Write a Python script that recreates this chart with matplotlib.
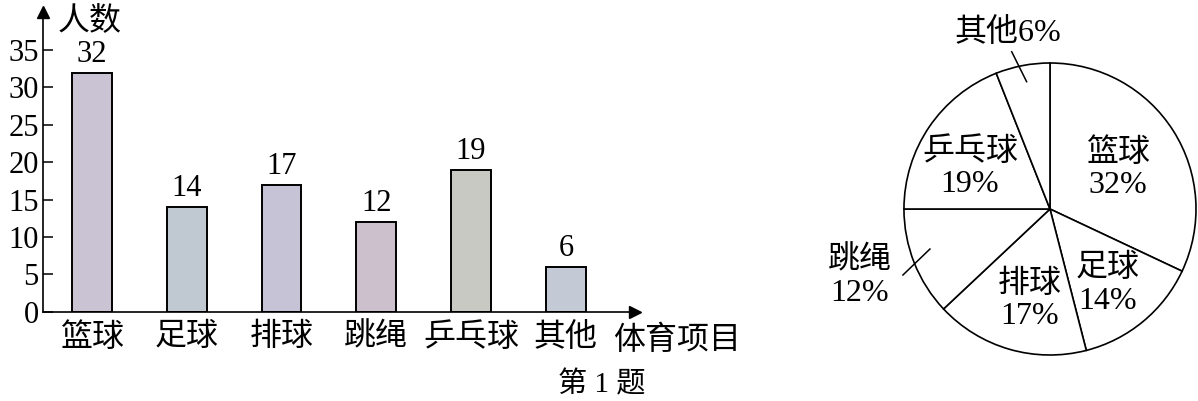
import matplotlib.pyplot as plt

plt.rcParams['font.family'] = ['Liberation Serif', 'Noto Sans CJK SC']

# data
sports = ['篮球', '足球', '排球', '跳绳', '乒乓球', '其他']
counts = [32, 14, 17, 12, 19, 6]
percents = [32, 14, 17, 12, 19, 6]
yticks = [0, 5, 10, 15, 20, 25, 30, 35]
bar_colors = ['#c9c3d3', '#c0c8d2', '#c6c3d6', '#ccc0cd', '#c9c9c4', '#c3cad6']

fig = plt.figure(figsize=(11.98, 4.01), dpi=100)

# ---- bar chart ----
ax = fig.add_axes([43 / 1198, 1 - 311.7 / 401, (635 - 43) / 1198, (311.7 - 12) / 401])
x = range(len(sports))
ax.bar(x, counts, width=0.42, color=bar_colors, edgecolor='black', linewidth=1.4)
for i, v in enumerate(counts):
    ax.text(i, v + 0.5, str(v), ha='center', va='bottom', fontsize=22)

ax.set_xlim(-0.517, 5.73)
ax.set_ylim(0, 40.1)
ax.set_yticks(yticks)
ax.set_xticks(list(x))
ax.set_xticklabels(sports, fontsize=23)
ax.tick_params(axis='y', direction='in', length=7, width=1.1, labelsize=22, pad=3)
ax.tick_params(axis='x', length=0, pad=8)
for s in ['top', 'right']:
    ax.spines[s].set_visible(False)
ax.spines['left'].set_linewidth(1.2)
ax.spines['bottom'].set_linewidth(1.2)
ax.plot(1, 0, '>k', markersize=8, transform=ax.transAxes, clip_on=False)
ax.plot(0, 1, '^k', markersize=8, transform=ax.transAxes, clip_on=False)
fig.text(58 / 1198, 1 - 22 / 401, '人数', fontsize=23, ha='left', va='center')
fig.text(613 / 1198, 1 - 341 / 401, '体育项目', fontsize=23, ha='left', va='center')
fig.text(602 / 1198, 1 - 385 / 401, '第 1 题', fontsize=21, ha='center', va='center')

# ---- pie chart ----
pax = fig.add_axes([800 / 1198, 0, 398 / 1198, 1])
pax.pie(percents, startangle=90, counterclock=False, colors=['white'] * len(percents),
        wedgeprops=dict(edgecolor='black', linewidth=1.2))
pax.set_aspect('auto')
pax.set_xlim(-1.712, 1.0137)
pax.set_ylim(-1.315, 1.4315)
pax.axis('off')

inside = {
    0: (0.466, 0.274),
    1: (0.397, -0.52),
    2: (-0.137, -0.623),
    4: (-0.548, 0.281),
}
for i, (px, py) in inside.items():
    pax.text(px, py, f'{sports[i]}\n{percents[i]}%', ha='center', va='center',
             fontsize=23, linespacing=1.15)

pax.text(-1.301, -0.466, f'{sports[3]}\n{percents[3]}%', ha='center', va='center',
         fontsize=23, linespacing=1.15)
pax.plot([-0.822, -1.007], [-0.274, -0.452], color='black', linewidth=1.1)
pax.text(-0.288, 1.205, f'{sports[5]}{percents[5]}%', ha='center', va='center', fontsize=23)
pax.plot([-0.16, -0.262], [0.872, 1.077], color='black', linewidth=1.1)

fig.savefig('out.png', dpi=100)
